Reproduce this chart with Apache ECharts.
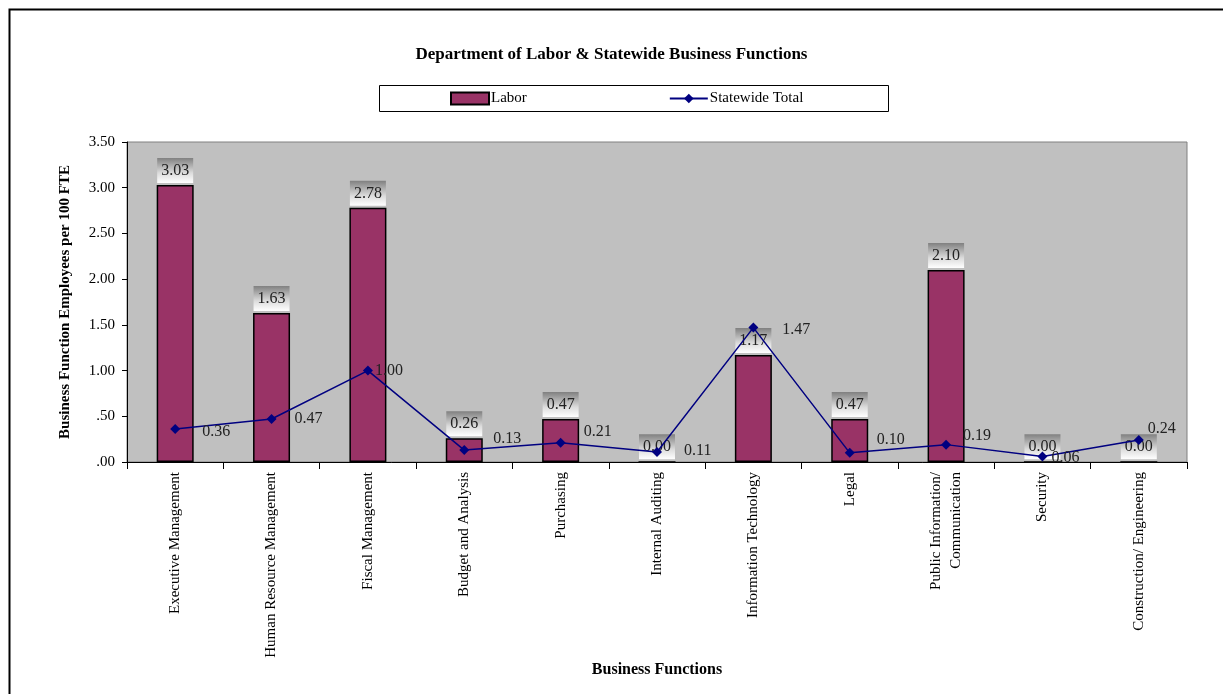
<!DOCTYPE html>
<html>
<head>
<meta charset="utf-8">
<title>Department of Labor &amp; Statewide Business Functions</title>
<script src="https://cdn.jsdelivr.net/npm/echarts@6/dist/echarts.min.js"></script>
<style>
  html, body { margin: 0; padding: 0; background: #ffffff; }
  #chart { width: 1223px; height: 694px; }
</style>
</head>
<body>
<div id="chart"></div>
<script>
// Business functions along the x axis
const categories = [
  'Executive Management',
  'Human Resource Management',
  'Fiscal Management',
  'Budget and Analysis',
  'Purchasing',
  'Internal Auditing',
  'Information Technology',
  'Legal',
  'Public Information/\nCommunication',
  'Security',
  'Construction/ Engineering'
];

// Employees per 100 FTE, Department of Labor
const laborValues = [3.03, 1.63, 2.78, 0.26, 0.47, 0.00, 1.17, 0.47, 2.10, 0.00, 0.00];

// Employees per 100 FTE, statewide
const statewideValues = [0.36, 0.47, 1.00, 0.13, 0.21, 0.11, 1.47, 0.10, 0.19, 0.06, 0.24];

// Y axis tick values
const yTicks = [0, 0.5, 1, 1.5, 2, 2.5, 3, 3.5];

// Small per-point nudges for the statewide value labels (x, y in px)
const lineLabelNudge = [
  [4, 3], [0, 0], [-16, 0], [6, -11], [0, -11], [4, -1],
  [6, 2], [4, -13], [-6, -9], [-14, 1], [-14, -11]
];

const serif = '"Liberation Serif", "DejaVu Serif", serif';

const barLabelBg = new echarts.graphic.LinearGradient(0, 0, 0, 1, [
  { offset: 0, color: '#808080' },
  { offset: 0.6, color: '#dcdcdc' },
  { offset: 1, color: '#ffffff' }
]);

function yLabel(v) {
  const s = v.toFixed(2);
  return v < 1 ? s.slice(1) : s;
}

const chart = echarts.init(document.getElementById('chart'), null, { renderer: 'canvas' });

chart.setOption({
  backgroundColor: '#ffffff',
  animation: false,
  textStyle: { fontFamily: serif },
  title: {
    text: 'Department of Labor & Statewide Business Functions',
    left: 'center',
    top: 41,
    textStyle: { fontFamily: serif, fontSize: 17, fontWeight: 'bold', color: '#000000' }
  },
  graphic: [
    {
      type: 'rect',
      left: 7, top: 7,
      shape: { width: 1400, height: 900 },
      style: { fill: 'none', stroke: '#000000', lineWidth: 2 },
      silent: true, z: -1
    },
    {
      type: 'rect',
      left: 379, top: 85,
      shape: { width: 509, height: 26 },
      style: { fill: '#ffffff', stroke: '#000000', lineWidth: 1 },
      silent: true, z: -1
    }
  ],
  legend: {
    left: 450,
    top: 91,
    itemWidth: 38,
    itemHeight: 12,
    itemGap: 142,
    padding: 0,
    textStyle: { fontFamily: serif, fontSize: 15, color: '#000000', padding: [0, 0, 0, -3] },
    data: [
      { name: 'Labor', icon: 'rect' },
      { name: 'Statewide Total' }
    ]
  },
  grid: {
    left: 127,
    right: 36,
    top: 142,
    bottom: 232,
    show: true,
    backgroundColor: '#c0c0c0',
    borderColor: '#808080',
    borderWidth: 1
  },
  xAxis: {
    type: 'category',
    data: categories,
    name: 'Business Functions',
    nameLocation: 'middle',
    nameGap: 200,
    nameTextStyle: { fontFamily: serif, fontSize: 16, fontWeight: 'bold', color: '#000000' },
    axisLine: { show: true, lineStyle: { color: '#000000', width: 1 } },
    axisTick: { show: true, length: 7, lineStyle: { color: '#000000' } },
    axisLabel: {
      rotate: 90,
      interval: 0,
      margin: 10,
      fontFamily: serif,
      fontSize: 15,
      color: '#000000',
      lineHeight: 20
    }
  },
  yAxis: {
    type: 'value',
    min: yTicks[0],
    max: yTicks[yTicks.length - 1],
    interval: 0.5,
    name: 'Business Function Employees per 100 FTE',
    nameLocation: 'middle',
    nameGap: 54,
    nameTextStyle: { fontFamily: serif, fontSize: 15, fontWeight: 'bold', color: '#000000' },
    axisLine: { show: true, lineStyle: { color: '#000000', width: 1 } },
    axisTick: { show: true, length: 5, lineStyle: { color: '#000000' } },
    splitLine: { show: false },
    axisLabel: {
      margin: 12,
      fontFamily: serif,
      fontSize: 15,
      color: '#000000',
      formatter: yLabel
    }
  },
  series: [
    {
      name: 'Labor',
      type: 'bar',
      data: laborValues,
      barWidth: 37,
      itemStyle: { color: '#993366', borderColor: '#000000', borderWidth: 1.5 },
      label: {
        show: true,
        position: 'top',
        distance: 2,
        formatter: p => p.value.toFixed(2),
        fontFamily: serif,
        fontSize: 16,
        color: '#222222',
        backgroundColor: barLabelBg,
        padding: [5, 4, 4, 4]
      },
      z: 2
    },
    {
      name: 'Statewide Total',
      type: 'line',
      data: statewideValues.map((v, i) => ({
        value: v,
        label: { offset: lineLabelNudge[i] }
      })),
      symbol: 'diamond',
      symbolSize: 10,
      lineStyle: { color: '#000080', width: 1.5 },
      itemStyle: { color: '#000080' },
      label: {
        show: true,
        position: 'right',
        distance: 18,
        formatter: p => p.value.toFixed(2),
        fontFamily: serif,
        fontSize: 16,
        color: '#222222'
      },
      z: 3
    }
  ]
});
</script>
</body>
</html>
